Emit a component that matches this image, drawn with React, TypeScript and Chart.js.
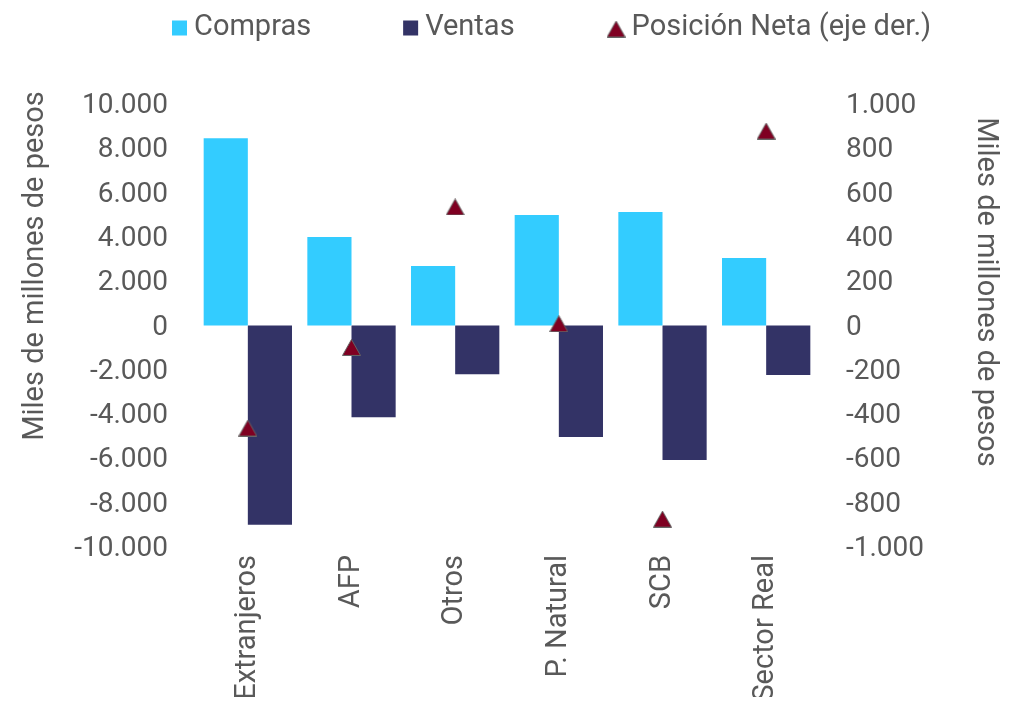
import { useEffect, useRef } from "react";
import { Chart, registerables } from "chart.js";

Chart.register(...registerables);

// Categorías y series (miles de millones de pesos)
const categories = ["Extranjeros", "AFP", "Otros", "P. Natural", "SCB", "Sector Real"];
const compras = [8450, 4000, 2690, 4990, 5120, 3050];
const ventas = [-9000, -4140, -2200, -5030, -6070, -2230];
const posicionNeta = [-463, -99, 535, 8, -874, 878];

const leftRange = { min: -10000, max: 10000, step: 2000 };
const rightRange = { min: -1000, max: 1000, step: 200 };

const axisTitle = "Miles de millones de pesos";

const COLOR_COMPRAS = "#33CCFF";
const COLOR_VENTAS = "#333366";
const COLOR_NETA = "#7F0022";
const COLOR_MARKER_EDGE = "#666666";
const COLOR_TEXT = "#595959";
const FONT_FAMILY = "Roboto, 'Noto Sans', sans-serif";

const CANVAS_W = 1015;
const CANVAS_H = 697;
const BOX_H = 689;

function formatMiles(v: number): string {
  const s = Math.abs(Math.round(v))
    .toString()
    .replace(/\B(?=(\d{3})+(?!\d))/g, ".");
  return (v < 0 ? "-" : "") + s;
}

// Marcador triangular centrado en su caja (el valor queda en el centro del triángulo)
function makeTriangleMarker(w: number, h: number): HTMLCanvasElement {
  const c = document.createElement("canvas");
  c.width = w;
  c.height = h;
  const g = c.getContext("2d")!;
  g.beginPath();
  g.moveTo(w / 2, 0.5);
  g.lineTo(w - 0.5, h - 0.5);
  g.lineTo(0.5, h - 0.5);
  g.closePath();
  g.fillStyle = COLOR_NETA;
  g.fill();
  g.lineWidth = 1;
  g.strokeStyle = COLOR_MARKER_EDGE;
  g.stroke();
  return c;
}

// Leyenda superior y títulos de los ejes verticales
const decorations = {
  id: "decorations",
  afterDraw(chart: Chart) {
    const ctx = chart.ctx;
    ctx.save();
    ctx.font = `29px ${FONT_FAMILY}`;
    ctx.textBaseline = "middle";
    ctx.textAlign = "left";

    const cy = 20;
    let x = 164;
    chart.data.datasets.forEach((ds: any) => {
      if (ds.type === "line") {
        const m = ds.pointStyle as HTMLCanvasElement;
        ctx.drawImage(m, x, cy - m.height / 2 + 1);
        x += m.width - 1;
      } else {
        ctx.fillStyle = ds.backgroundColor;
        ctx.fillRect(x, cy - 7.5, 15, 15);
        x += 15;
      }
      x += 7;
      ctx.fillStyle = COLOR_TEXT;
      ctx.fillText(ds.label, x, cy);
      x += ctx.measureText(ds.label).width + 92;
    });

    ctx.textAlign = "center";
    ctx.fillStyle = COLOR_TEXT;

    ctx.save();
    ctx.translate(28, 258);
    ctx.rotate(-Math.PI / 2);
    ctx.fillText(axisTitle, 0, 0);
    ctx.restore();

    ctx.save();
    ctx.translate(977, 284);
    ctx.rotate(Math.PI / 2);
    ctx.fillText(axisTitle, 0, 0);
    ctx.restore();

    ctx.restore();
  },
};

export default function App() {
  const canvasRef = useRef<HTMLCanvasElement | null>(null);

  useEffect(() => {
    if (!canvasRef.current) return;
    const tickFont = { family: FONT_FAMILY, size: 28 };
    const marker = makeTriangleMarker(19, 17);

    const chart = new Chart(canvasRef.current, {
      type: "bar",
      data: {
        labels: categories,
        datasets: [
          {
            type: "bar",
            label: "Compras",
            data: compras,
            backgroundColor: COLOR_COMPRAS,
            yAxisID: "y",
            order: 1,
            categoryPercentage: 0.852,
            barPercentage: 1.0,
          },
          {
            type: "bar",
            label: "Ventas",
            data: ventas,
            backgroundColor: COLOR_VENTAS,
            yAxisID: "y",
            order: 1,
            categoryPercentage: 0.852,
            barPercentage: 1.0,
          },
          {
            type: "line",
            label: "Posición Neta (eje der.)",
            data: posicionNeta,
            yAxisID: "y1",
            showLine: false,
            order: 0,
            pointStyle: marker,
            pointRadius: 10,
            pointHoverRadius: 10,
            backgroundColor: COLOR_NETA,
            borderColor: COLOR_MARKER_EDGE,
          },
        ] as any,
      },
      options: {
        responsive: false,
        animation: false,
        layout: { padding: { top: 96, left: 0, right: 0, bottom: 0 } },
        plugins: {
          legend: { display: false },
          tooltip: { enabled: false },
          title: { display: false },
        },
        scales: {
          x: {
            grid: { display: false, drawTicks: false },
            border: { display: false },
            ticks: {
              color: COLOR_TEXT,
              font: { family: FONT_FAMILY, size: 29 },
              minRotation: 90,
              maxRotation: 90,
              autoSkip: false,
              padding: 8,
            },
            afterFit(scale: any) {
              scale.height = 158;
            },
          },
          y: {
            position: "left",
            min: leftRange.min,
            max: leftRange.max,
            grid: { display: false, drawTicks: false },
            border: { display: false },
            ticks: {
              stepSize: leftRange.step,
              color: COLOR_TEXT,
              font: tickFont,
              padding: 28,
              labelOffset: 2,
              callback: (v: any) => formatMiles(Number(v)),
            },
            afterFit(scale: any) {
              scale.width = 188;
            },
          },
          y1: {
            position: "right",
            min: rightRange.min,
            max: rightRange.max,
            grid: { display: false, drawTicks: false },
            border: { display: false },
            ticks: {
              stepSize: rightRange.step,
              color: COLOR_TEXT,
              font: tickFont,
              padding: 28,
              labelOffset: 2,
              callback: (v: any) => formatMiles(Number(v)),
            },
            afterFit(scale: any) {
              scale.width = 205;
            },
          },
        },
      } as any,
      plugins: [decorations],
    });

    return () => chart.destroy();
  }, []);

  return (
    <div style={{ width: CANVAS_W, height: BOX_H }}>
      <canvas
        ref={canvasRef}
        width={CANVAS_W}
        height={CANVAS_H}
        style={{ display: "block", width: CANVAS_W, height: CANVAS_H }}
      />
    </div>
  );
}
